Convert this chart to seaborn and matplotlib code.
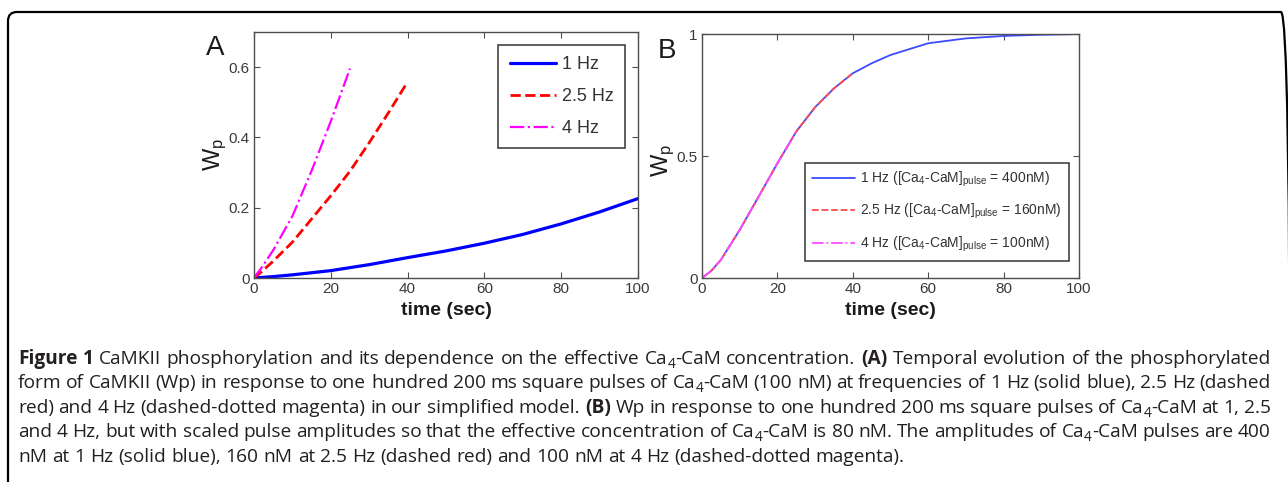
import matplotlib
matplotlib.use("Agg")
import matplotlib.pyplot as plt
import matplotlib.transforms as mtransforms
from matplotlib.patches import FancyBboxPatch
import seaborn as sns
import pandas as pd

# ---------------- data ----------------
# Panel A
tA_1hz = [0, 5, 10, 20, 30, 40, 50, 60, 70, 80, 90, 100]
wpA_1hz = [0, 0.004, 0.009, 0.021, 0.038, 0.058, 0.077, 0.099, 0.124, 0.154, 0.188, 0.226]
tA_25hz = [0, 2, 5, 10, 15, 20, 25, 30, 35, 40]
wpA_25hz = [0, 0.018, 0.048, 0.102, 0.168, 0.234, 0.304, 0.385, 0.470, 0.558]
tA_4hz = [0, 2, 5, 10, 15, 20, 25]
wpA_4hz = [0, 0.030, 0.079, 0.176, 0.305, 0.446, 0.596]

# Panel B
tB_1hz = [0, 2.5, 5, 10, 15, 20, 25, 30, 35, 40, 45, 50, 60, 70, 80, 90, 98]
wpB_1hz = [0, 0.030, 0.074, 0.197, 0.333, 0.470, 0.600, 0.700, 0.777, 0.839, 0.880, 0.914,
           0.962, 0.982, 0.992, 0.997, 0.999]
tB_25hz = [0, 2.5, 5, 10, 15, 20, 25, 30, 35, 40]
wpB_25hz = [0, 0.030, 0.074, 0.197, 0.333, 0.470, 0.600, 0.700, 0.777, 0.839]
tB_4hz = [0, 2.5, 5, 10, 15, 20, 25]
wpB_4hz = [0, 0.030, 0.074, 0.197, 0.333, 0.470, 0.600]

labelsA = ["1 Hz", "2.5 Hz", "4 Hz"]
labelsB = [r"1 Hz ([Ca$_4$-CaM]$_{\mathrm{pulse}}$ = 400nM)",
           r"2.5 Hz ([Ca$_4$-CaM]$_{\mathrm{pulse}}$ = 160nM)",
           r"4 Hz ([Ca$_4$-CaM]$_{\mathrm{pulse}}$ = 100nM)"]

xticks = [0, 20, 40, 60, 80, 100]
yticksA = [0, 0.2, 0.4, 0.6]
yticklabelsA = ["0", "0.2", "0.4", "0.6"]
yticksB = [0, 0.5, 1]
yticklabelsB = ["0", "0.5", "1"]

# "$_4$" marks a subscript 4
caption_lines = [
    [("Figure 1", True),
     ("CaMKII phosphorylation and its dependence on the effective Ca$_4$-CaM concentration.", False),
     ("(A)", True), ("Temporal evolution of the phosphorylated", False)],
    [("form of CaMKII (Wp) in response to one hundred 200 ms square pulses of Ca$_4$-CaM (100 nM) "
      "at frequencies of 1 Hz (solid blue), 2.5 Hz (dashed", False)],
    [("red) and 4 Hz (dashed-dotted magenta) in our simplified model.", False), ("(B)", True),
     ("Wp in response to one hundred 200 ms square pulses of Ca$_4$-CaM at 1, 2.5", False)],
    [("and 4 Hz, but with scaled pulse amplitudes so that the effective concentration of Ca$_4$-CaM "
      "is 80 nM. The amplitudes of Ca$_4$-CaM pulses are 400", False)],
    [("nM at 1 Hz (solid blue), 160 nM at 2.5 Hz (dashed red) and 100 nM at 4 Hz (dashed-dotted magenta).", False)],
]

# ---------------- style ----------------
sns.set_theme(style="white")
plt.rcParams["font.family"] = ["Liberation Sans", "DejaVu Sans"]
plt.rcParams["mathtext.fontset"] = "custom"
plt.rcParams["mathtext.rm"] = "Liberation Sans"
plt.rcParams["mathtext.it"] = "Liberation Sans:italic"
plt.rcParams["mathtext.bf"] = "Liberation Sans:bold"

W, H = 1288, 482
fig = plt.figure(figsize=(W / 100, H / 100), dpi=100)
fig.patch.set_facecolor("white")

axA = fig.add_axes([254 / W, 1 - 278 / H, 384 / W, 246 / H])
axB = fig.add_axes([702 / W, 1 - 278 / H, 377 / W, 244 / H])

dfA1 = pd.DataFrame({"t": tA_1hz, "wp": wpA_1hz})
dfA2 = pd.DataFrame({"t": tA_25hz, "wp": wpA_25hz})
dfA3 = pd.DataFrame({"t": tA_4hz, "wp": wpA_4hz})
sns.lineplot(data=dfA1, x="t", y="wp", ax=axA, color="#0000ff", lw=2.3, label=labelsA[0])
sns.lineplot(data=dfA2, x="t", y="wp", ax=axA, color="#ff0000", lw=2.0, linestyle="--", label=labelsA[1])
sns.lineplot(data=dfA3, x="t", y="wp", ax=axA, color="#ff00ff", lw=1.6, linestyle="-.", label=labelsA[2])

dfB1 = pd.DataFrame({"t": tB_1hz, "wp": wpB_1hz})
dfB2 = pd.DataFrame({"t": tB_25hz, "wp": wpB_25hz})
dfB3 = pd.DataFrame({"t": tB_4hz, "wp": wpB_4hz})
sns.lineplot(data=dfB1, x="t", y="wp", ax=axB, color="#3a4cff", lw=1.3, label=labelsB[0])
sns.lineplot(data=dfB2, x="t", y="wp", ax=axB, color="#ff4a4a", lw=1.3, linestyle="--", label=labelsB[1])
sns.lineplot(data=dfB3, x="t", y="wp", ax=axB, color="#ff4aff", lw=1.3, linestyle="-.", label=labelsB[2])

for ax, yt, ytl, ylim in [(axA, yticksA, yticklabelsA, (0, 0.7)), (axB, yticksB, yticklabelsB, (0, 1))]:
    ax.set_xlim(0, 100)
    ax.set_ylim(*ylim)
    ax.set_xticks(xticks)
    ax.set_xticklabels([str(v) for v in xticks])
    ax.set_yticks(yt)
    ax.set_yticklabels(ytl)
    ax.tick_params(direction="in", length=4, width=0.8, top=True, right=True, bottom=True, left=True,
                   labelsize=11, labelcolor="#3a3a3a", color="#4d4d4d", pad=3)
    for sp in ax.spines.values():
        sp.set_color("#4d4d4d")
        sp.set_linewidth(1.0)
    ax.set_xlabel("time (sec)", fontsize=14, fontweight="bold", color="#1a1a1a")
    ax.xaxis.set_label_coords(0.5, -0.098)
    ax.set_ylabel(r"W$_{\mathrm{p}}$", fontsize=17, color="#1a1a1a")

axA.yaxis.set_label_coords(-0.065, 0.504)
axB.yaxis.set_label_coords(-0.066, 0.48)

legA = axA.legend(loc="upper right", bbox_to_anchor=(0.966, 0.947), fontsize=13, frameon=True,
                  fancybox=False, framealpha=1, edgecolor="#333333", handlelength=2.6,
                  handletextpad=0.3, labelspacing=0.83, borderpad=0.62, borderaxespad=0)
legA.get_frame().set_linewidth(1.1)
for t in legA.get_texts():
    t.set_color("#333333")

legB = axB.legend(loc="lower right", bbox_to_anchor=(0.973, 0.07), fontsize=10, frameon=True,
                  fancybox=False, framealpha=1, edgecolor="#333333", handlelength=3.1,
                  handletextpad=0.4, labelspacing=0.95, borderpad=0.5, borderaxespad=0)
legB.get_frame().set_linewidth(1.1)
for t in legB.get_texts():
    t.set_color("#333333")

fig.text(215 / W, 1 - 48 / H, "A", fontsize=20, ha="center", va="center", color="#1a1a1a")
fig.text(667 / W, 1 - 51 / H, "B", fontsize=20, ha="center", va="center", color="#1a1a1a")

# ---------------- outer rounded frame ----------------
frame = FancyBboxPatch((8, -30), 1290 - 8, (H - 12) + 30,
                       boxstyle="round,pad=0,rounding_size=9",
                       transform=mtransforms.IdentityTransform(),
                       facecolor="none", edgecolor="black", linewidth=1.6, clip_on=False)
fig.add_artist(frame)

# ---------------- caption (justified, real text) ----------------
cap_family = ["Open Sans", "DejaVu Sans"]
cap_color = "#231f20"
baselines = [364, 388, 413, 437, 462]
x0, x1 = 18, 1271
last_line_end = 905
renderer = fig.canvas.get_renderer()


def build_line(line, base, fs):
    words = []
    for seg, bold in line:
        for w in seg.split(" "):
            pieces = []
            parts = w.split("$_4$")
            for k, p in enumerate(parts):
                if p:
                    t = fig.text(0, 1 - base / H, p, fontsize=fs, family=cap_family,
                                 fontweight="bold" if bold else "normal", va="baseline",
                                 ha="left", color=cap_color)
                    pieces.append(t)
                if k < len(parts) - 1:
                    drop = 0.2 * fs * 100 / 72
                    t = fig.text(0, 1 - (base + drop) / H, "4", fontsize=fs * 0.72,
                                 family=cap_family, va="baseline", ha="left", color=cap_color)
                    pieces.append(t)
            words.append(pieces)
    return words


def widths_of(words):
    return [[p.get_window_extent(renderer).width for p in pcs] for pcs in words]


# choose font size so that the last (unjustified) line has the reference length
probe = build_line(caption_lines[-1], baselines[-1], 10)
pw = widths_of(probe)
nat = sum(sum(w) for w in pw) + (len(pw) - 1) * 0.26 * 10 * 100 / 72
for pcs in probe:
    for p in pcs:
        p.remove()
fs_cap = 10 * (last_line_end - x0) / nat

for i, (line, base) in enumerate(zip(caption_lines, baselines)):
    words = build_line(line, base, fs_cap)
    ws = widths_of(words)
    tot = sum(sum(w) for w in ws)
    if i < len(caption_lines) - 1:
        gap = (x1 - x0 - tot) / (len(words) - 1)
    else:
        gap = 0.26 * fs_cap * 100 / 72
    x = x0
    for pcs, wl in zip(words, ws):
        for p, w in zip(pcs, wl):
            p.set_x(x / W)
            x += w
        x += gap

fig.savefig("out.png", dpi=100, facecolor="white")
